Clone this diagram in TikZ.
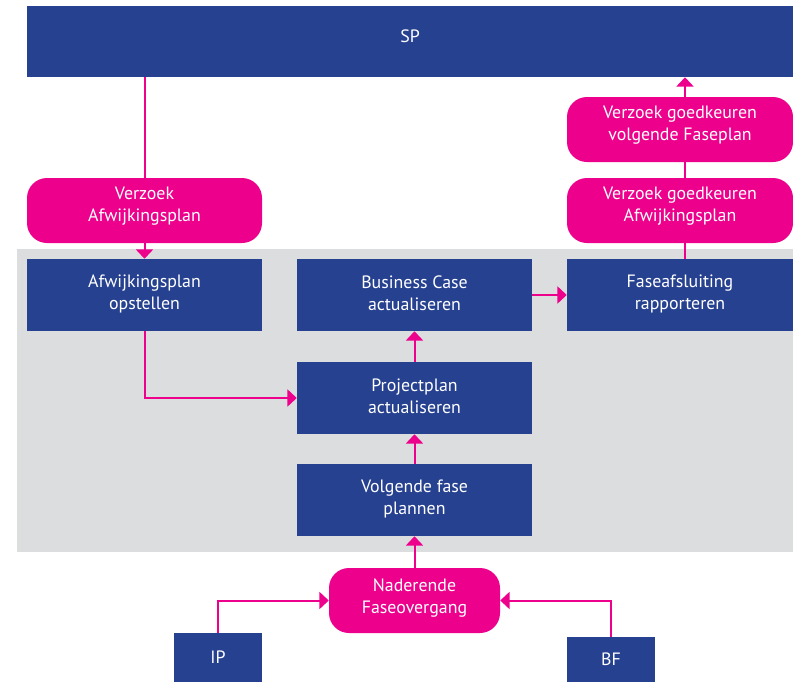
\documentclass[tikz,border=0pt]{standalone}
\usepackage{fontspec}
\setmainfont{PT Sans}
\usetikzlibrary{arrows.meta}
\definecolor{procblue}{RGB}{38,65,143}
\definecolor{msgpink}{RGB}{236,0,140}
\definecolor{zonegray}{RGB}{220,221,223}
\begin{document}
\begin{tikzpicture}[x=0.75pt,y=-0.75pt,
  txt/.style={text=white,align=center,inner sep=0pt,
    font=\fontsize{13.4}{16.5}\selectfont},
  proc/.style={fill=procblue,inner sep=0pt},
  msg/.style={fill=msgpink,inner sep=0pt,rounded corners=15pt},
  says/.style 2 args={label={[txt,yshift=#1]center:{#2}}},
  flow/.style={draw=msgpink,line width=1.5pt},
  tip/.style={flow,-{Triangle[width=12.75pt,length=7pt]}}]
\useasboundingbox (0,0) rectangle (793,682);
% grey band holding the stage activities
\fill[zonegray] (17,249) rectangle (793,552);

% steering level
\node[proc,minimum width=766*0.75pt,minimum height=71*0.75pt,says={4pt}{SP}] (sp) at (410,41.5) {};

% requests to the steering level
\node[msg,minimum width=235*0.75pt,minimum height=65*0.75pt,says={3pt}{Verzoek\\Afwijkingsplan}] (va) at (144.5,210.5) {};
\node[msg,minimum width=226*0.75pt,minimum height=65*0.75pt,says={3pt}{Verzoek goedkeuren\\volgende Faseplan}] (vgf) at (680,129.5) {};
\node[msg,minimum width=226*0.75pt,minimum height=65*0.75pt,says={3pt}{Verzoek goedkeuren\\Afwijkingsplan}] (vga) at (680,210.5) {};

% stage activities
\node[proc,minimum width=235*0.75pt,minimum height=72*0.75pt,says={1pt}{Afwijkingsplan\\opstellen}] (ao) at (144.5,295) {};
\node[proc,minimum width=235*0.75pt,minimum height=72*0.75pt,says={1pt}{Business Case\\actualiseren}] (bc) at (414.5,295) {};
\node[proc,minimum width=226*0.75pt,minimum height=72*0.75pt,says={1pt}{Faseafsluiting\\rapporteren}] (fr) at (680,295) {};
\node[proc,minimum width=235*0.75pt,minimum height=72*0.75pt,says={1pt}{Projectplan\\actualiseren}] (pa) at (414.5,398) {};
\node[proc,minimum width=235*0.75pt,minimum height=72*0.75pt,says={1pt}{Volgende fase\\plannen}] (vf) at (414.5,500) {};

% trigger and its sources
\node[msg,minimum width=171*0.75pt,minimum height=65*0.75pt,says={2pt}{Naderende\\Faseovergang}] (nf) at (414.5,600.5) {};
\node[proc,minimum width=88*0.75pt,minimum height=49*0.75pt,says={0pt}{IP}] (ip) at (218,657.5) {};
\node[proc,minimum width=88*0.75pt,minimum height=45*0.75pt,says={0pt}{BF}] (bf) at (611,659.5) {};

\coordinate (rcol) at (685,0);

% connectors
\draw[flow] (sp.south -| va) -- (va.north);
\draw[tip] (va.south) -- (ao.north);
\draw[tip] (ao.south) |- (pa.west);
\draw[tip] (pa.north) -- (bc.south);
\draw[tip] (vf.north) -- (pa.south);
\draw[tip] (nf.north) -- (vf.south);
\draw[tip] (bc.east) -- (fr.west);
\draw[flow] (fr.north -| rcol) -- (vga.south -| rcol);
\draw[flow] (vga.north -| rcol) -- (vgf.south -| rcol);
\draw[tip] (vgf.north -| rcol) -- (sp.south -| rcol);
\draw[tip] (ip.north) |- (nf.west);
\draw[tip] (bf.north) |- (nf.east);
\end{tikzpicture}
\end{document}
